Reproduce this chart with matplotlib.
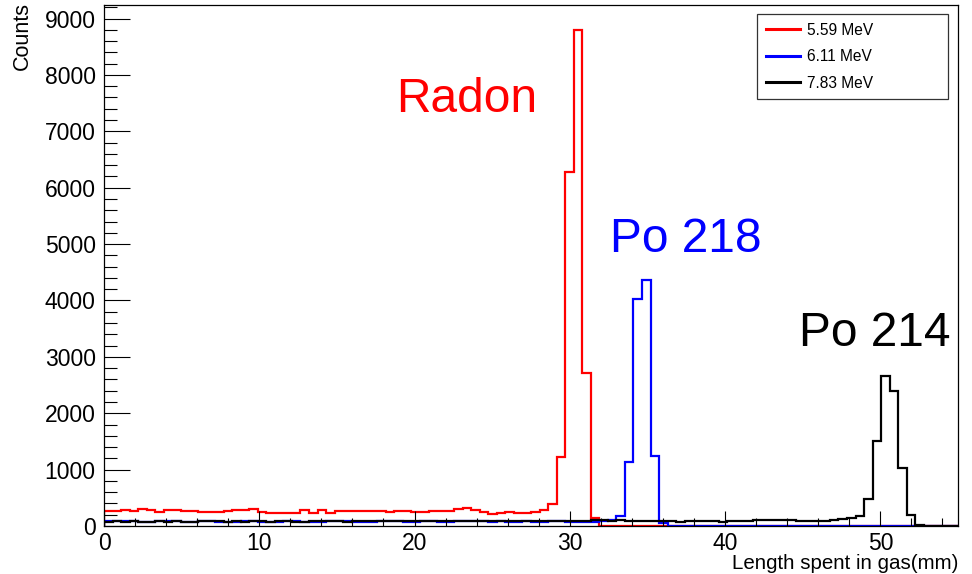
import numpy as np
import matplotlib
matplotlib.use("Agg")
import matplotlib.pyplot as plt
from matplotlib.ticker import MultipleLocator

plt.rcParams['font.family'] = ['Liberation Sans', 'DejaVu Sans']

# 100 bins of 0.55 mm from 0 to 55 mm
bin_edges = np.linspace(0, 55, 101)

red_counts = [
    270, 268, 275, 272, 305, 280, 255, 290, 288, 270,
    265, 245, 242, 248, 262, 280, 285, 310, 240, 228,
    225, 226, 228, 282, 226, 282, 228, 265, 266, 268,
    264, 262, 258, 252, 262, 258, 245, 250, 262, 266,
    268, 295, 322, 280, 240, 205, 235, 250, 230, 232,
    240, 275, 385, 1220, 6270, 8800, 2720, 150, 0, 0,
] + [0] * 40

blue_counts = [
    85, 80, 90, 95, 75, 70, 88, 92, 85, 70,
    75, 82, 90, 78, 72, 68, 80, 85, 76, 70,
    72, 88, 90, 74, 70, 78, 82, 95, 80, 72,
    70, 76, 85, 90, 82, 74, 70, 88, 92, 78,
    72, 80, 86, 90, 82, 72, 88, 75, 70, 92,
    78, 74, 80, 82, 70, 75, 72, 78, 80, 100,
    170, 1140, 4030, 4360, 1250, 60,
] + [0] * 34

black_counts = [
    78, 82, 75, 80, 74, 72, 80, 78, 82, 76,
    74, 80, 82, 85, 78, 80, 76, 82, 84, 78,
    80, 82, 76, 78, 80, 82, 84, 80, 76, 82,
    84, 86, 80, 82, 88, 84, 86, 82, 90, 88,
    84, 86, 80, 82, 84, 86, 88, 90, 85, 88,
    92, 95, 90, 88, 94, 92, 96, 100, 98, 95,
    100, 92, 90, 88, 85, 80, 82, 78, 80, 82,
    85, 80, 78, 82, 84, 88, 110, 112, 108, 110,
    98, 92, 90, 88, 95, 100, 125, 147, 172, 473,
    1507, 2660, 2394, 1023, 195, 18, 0, 0, 0, 0,
]

series_labels = ["5.59 MeV", "6.11 MeV", "7.83 MeV"]
series_colors = ["#ff0000", "#0000ff", "#000000"]
peak_names = ["Radon", "Po 218", "Po 214"]
peak_text_pos = [(18.8, 7340), (32.6, 4858), (44.75, 3191)]

x_label = "Length spent in gas(mm)"
y_label = "Counts"

fig = plt.figure(figsize=(9.72, 5.74), dpi=100)
ax = fig.add_axes([104 / 972, 48 / 574, (958 - 104) / 972, (569 - 48) / 574])

handles = []
for vals, col, lab in zip([red_counts, blue_counts, black_counts], series_colors, series_labels):
    ax.stairs(vals, bin_edges, color=col, linewidth=1.6, baseline=0, label=lab)
    handles.append(plt.Line2D([], [], color=col, linewidth=2.2))

ax.set_xlim(0, 55)
ax.set_ylim(0, 9240)

ax.xaxis.set_major_locator(MultipleLocator(10))
ax.xaxis.set_minor_locator(MultipleLocator(2))
ax.yaxis.set_major_locator(MultipleLocator(1000))
ax.yaxis.set_minor_locator(MultipleLocator(200))

ax.tick_params(axis='x', which='major', direction='in', length=11, width=0.8, labelsize=16.5, pad=4)
ax.tick_params(axis='x', which='minor', direction='in', length=5.5, width=0.8)
ax.tick_params(axis='y', which='major', direction='in', length=18.5, width=0.8, labelsize=16.5, pad=6)
ax.tick_params(axis='y', which='minor', direction='in', length=9, width=0.8)
for s in ax.spines.values():
    s.set_linewidth(0.9)

fig.text(958 / 972, 1 - 569 / 574, x_label, ha='right', va='baseline', fontsize=14.8)
fig.text(22 / 972, 1 - 2 / 574, y_label, ha='center', va='top', rotation=90, fontsize=15.5)

for name, col, (px, py) in zip(peak_names, series_colors, peak_text_pos):
    ax.text(px, py, name, color=col, fontsize=34.5, ha='left', va='baseline')

leg = ax.legend(handles, series_labels, loc='upper left',
                bbox_to_anchor=(757 / 972, 1 - 14 / 574, (948 - 757) / 972, 0.0),
                bbox_transform=fig.transFigure, mode='expand', borderaxespad=0,
                fontsize=11.2, handlelength=2.2, handletextpad=0.45, labelspacing=0.75,
                borderpad=0.55, fancybox=False, framealpha=1, edgecolor='#333333')
leg.get_frame().set_linewidth(0.9)

fig.savefig("out.png", dpi=100)
